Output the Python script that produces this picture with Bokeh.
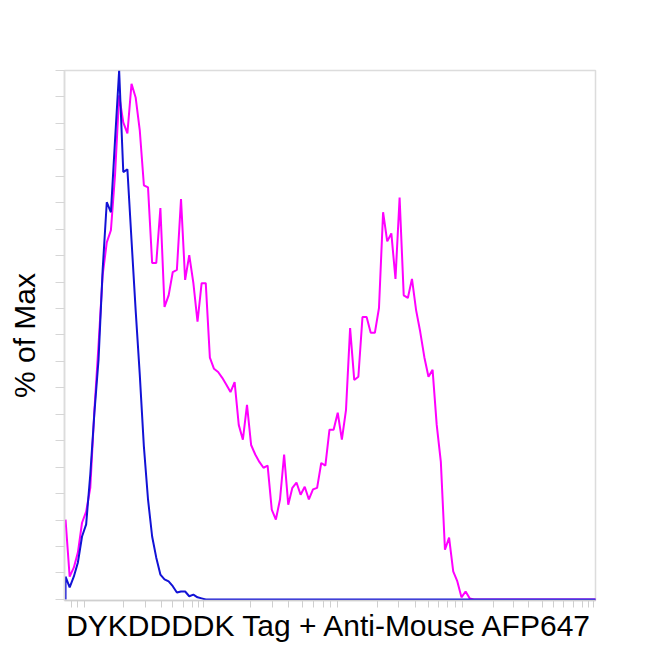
from bokeh.plotting import figure
from bokeh.models import Range1d, FixedTicker, CustomJSTickFormatter
from bokeh.embed import file_html
from bokeh.resources import INLINE

# channel (bin) index on the logicle-scaled fluorescence axis
bins = list(range(130))

# sample: DYKDDDDK tag stained cells (% of max)
magenta_pct = [
    15.1, 4.3, 6.0, 8.9, 14.5, 16.6, 21.1, 35.8, 48.1, 61.3,
    67.5, 69.8, 80.2, 95.3, 90.2, 88.1, 97.5, 94.9, 88.7, 78.3,
    77.9, 63.6, 63.6, 74.0, 55.3, 57.5, 61.9, 62.3, 75.7, 60.4,
    65.1, 59.8, 52.5, 59.8, 59.8, 45.7, 43.6, 43.0, 41.9, 40.6,
    39.2, 41.1, 33.0, 30.2, 36.8, 29.2, 27.4, 26.0, 24.9, 25.3,
    17.0, 15.1, 18.9, 27.4, 17.9, 21.1, 22.1, 19.8, 21.3, 18.9,
    20.8, 21.1, 25.8, 25.3, 32.1, 32.1, 35.3, 30.2, 35.8, 51.3,
    41.5, 42.1, 53.4, 53.4, 50.4, 50.4, 55.1, 73.2, 67.7, 69.2,
    60.6, 76.0, 57.5, 57.0, 60.6, 54.7, 50.6, 45.8, 42.1, 43.4,
    33.0, 26.0, 9.4, 11.7, 5.3, 3.4, 0.4, 1.5, 0.2, 0.0,
    0.0, 0.0, 0.0, 0.0, 0.0, 0.0, 0.0, 0.0, 0.0, 0.0,
    0.0, 0.0, 0.0, 0.0, 0.0, 0.0, 0.0, 0.0, 0.0, 0.0,
    0.0, 0.0, 0.0, 0.0, 0.0, 0.0, 0.0, 0.0, 0.0, 0.0,
]

# control: unstained / isotype (% of max), starts from zero at the first bin
blue_pct = [
    0.0,
    4.3, 2.3, 4.3, 7.0, 11.9, 14.2, 23.6, 35.3, 45.3, 62.3,
    75.1, 73.2, 86.8, 100.0, 80.8, 81.3, 67.9, 54.7, 42.5, 28.9,
    18.9, 11.9, 7.9, 4.7, 3.8, 3.4, 2.5, 1.3, 1.5, 1.5,
    0.6, 0.9, 0.4, 0.2, 0.0, 0.0, 0.0, 0.0, 0.0, 0.0,
    0.0, 0.0, 0.0, 0.0, 0.0, 0.0, 0.0, 0.0, 0.0, 0.0,
    0.0, 0.0, 0.0, 0.0, 0.0, 0.0, 0.0, 0.0, 0.0, 0.0,
    0.0, 0.0, 0.0, 0.0, 0.0, 0.0, 0.0, 0.0, 0.0, 0.0,
    0.0, 0.0, 0.0, 0.0, 0.0, 0.0, 0.0, 0.0, 0.0, 0.0,
    0.0, 0.0, 0.0, 0.0, 0.0, 0.0, 0.0, 0.0, 0.0, 0.0,
    0.0, 0.0, 0.0, 0.0, 0.0, 0.0, 0.0, 0.0, 0.0, 0.0,
    0.0, 0.0, 0.0, 0.0, 0.0, 0.0, 0.0, 0.0, 0.0, 0.0,
    0.0, 0.0, 0.0, 0.0, 0.0, 0.0, 0.0, 0.0, 0.0, 0.0,
    0.0, 0.0, 0.0, 0.0, 0.0, 0.0, 0.0, 0.0, 0.0, 0.0,
    0.0,
]
blue_bins = [bins[0]] + bins

# logicle axis minor/major tick locations (in channel units)
x_ticks = [1.45, 2.91, 4.61, 14.06, 19.39, 23.27, 25.94, 28.61, 30.79, 32.24,
           33.45, 44.85, 50.18, 54.06, 57.45, 60.12, 62.55, 64.24, 65.94,
           75.64, 80.73, 84.85, 88.0, 90.42, 92.61, 94.55, 96.24,
           103.76, 108.61, 112.24, 115.64, 118.30, 120.73, 123.15, 125.33,
           126.79, 128.0]
y_ticks = list(range(0, 101, 5))

x_title = "DYKDDDDK Tag + Anti-Mouse AFP647"
y_title = "% of Max"

p = figure(width=650, height=650, output_backend="svg", toolbar_location=None,
           x_range=Range1d(-0.25, 128.5), y_range=Range1d(-0.2, 100.0),
           min_border_left=64, min_border_right=55, min_border_top=70,
           min_border_bottom=50)

p.background_fill_color = "white"
p.border_fill_color = "white"
p.outline_line_color = "#dcdcdc"
p.outline_line_width = 1.5
p.xgrid.visible = False
p.ygrid.visible = False

p.line(bins, magenta_pct, line_color="#ff00ff", line_width=2)
p.line(blue_bins, blue_pct, line_color="#1212d6", line_width=2)

empty = CustomJSTickFormatter(code="return ''")

xa = p.xaxis[0]
xa.ticker = FixedTicker(ticks=x_ticks)
xa.formatter = empty
xa.major_label_text_font_size = "1px"
xa.major_label_standoff = 0
xa.minor_tick_line_color = None
xa.major_tick_in = 0
xa.major_tick_out = 7
xa.major_tick_line_color = "#cfcfcf"
xa.axis_line_color = "#cfcfcf"
xa.axis_line_width = 1.5
xa.axis_label = x_title
xa.axis_label_text_font = "Liberation Sans"
xa.axis_label_text_font_size = "30px"
xa.axis_label_text_font_style = "normal"
xa.axis_label_text_color = "black"
xa.axis_label_standoff = 1

ya = p.yaxis[0]
ya.ticker = FixedTicker(ticks=y_ticks)
ya.formatter = empty
ya.major_label_text_font_size = "1px"
ya.major_label_standoff = 0
ya.minor_tick_line_color = None
ya.major_tick_in = 0
ya.major_tick_out = 9
ya.major_tick_line_color = "#d6d6d6"
ya.axis_line_color = "#dcdcdc"
ya.axis_line_width = 1.5
ya.axis_label = y_title
ya.axis_label_text_font = "Liberation Sans"
ya.axis_label_text_font_size = "30px"
ya.axis_label_text_font_style = "normal"
ya.axis_label_text_color = "black"
ya.axis_label_standoff = 15

open("out.html", "w").write(file_html(p, INLINE))
